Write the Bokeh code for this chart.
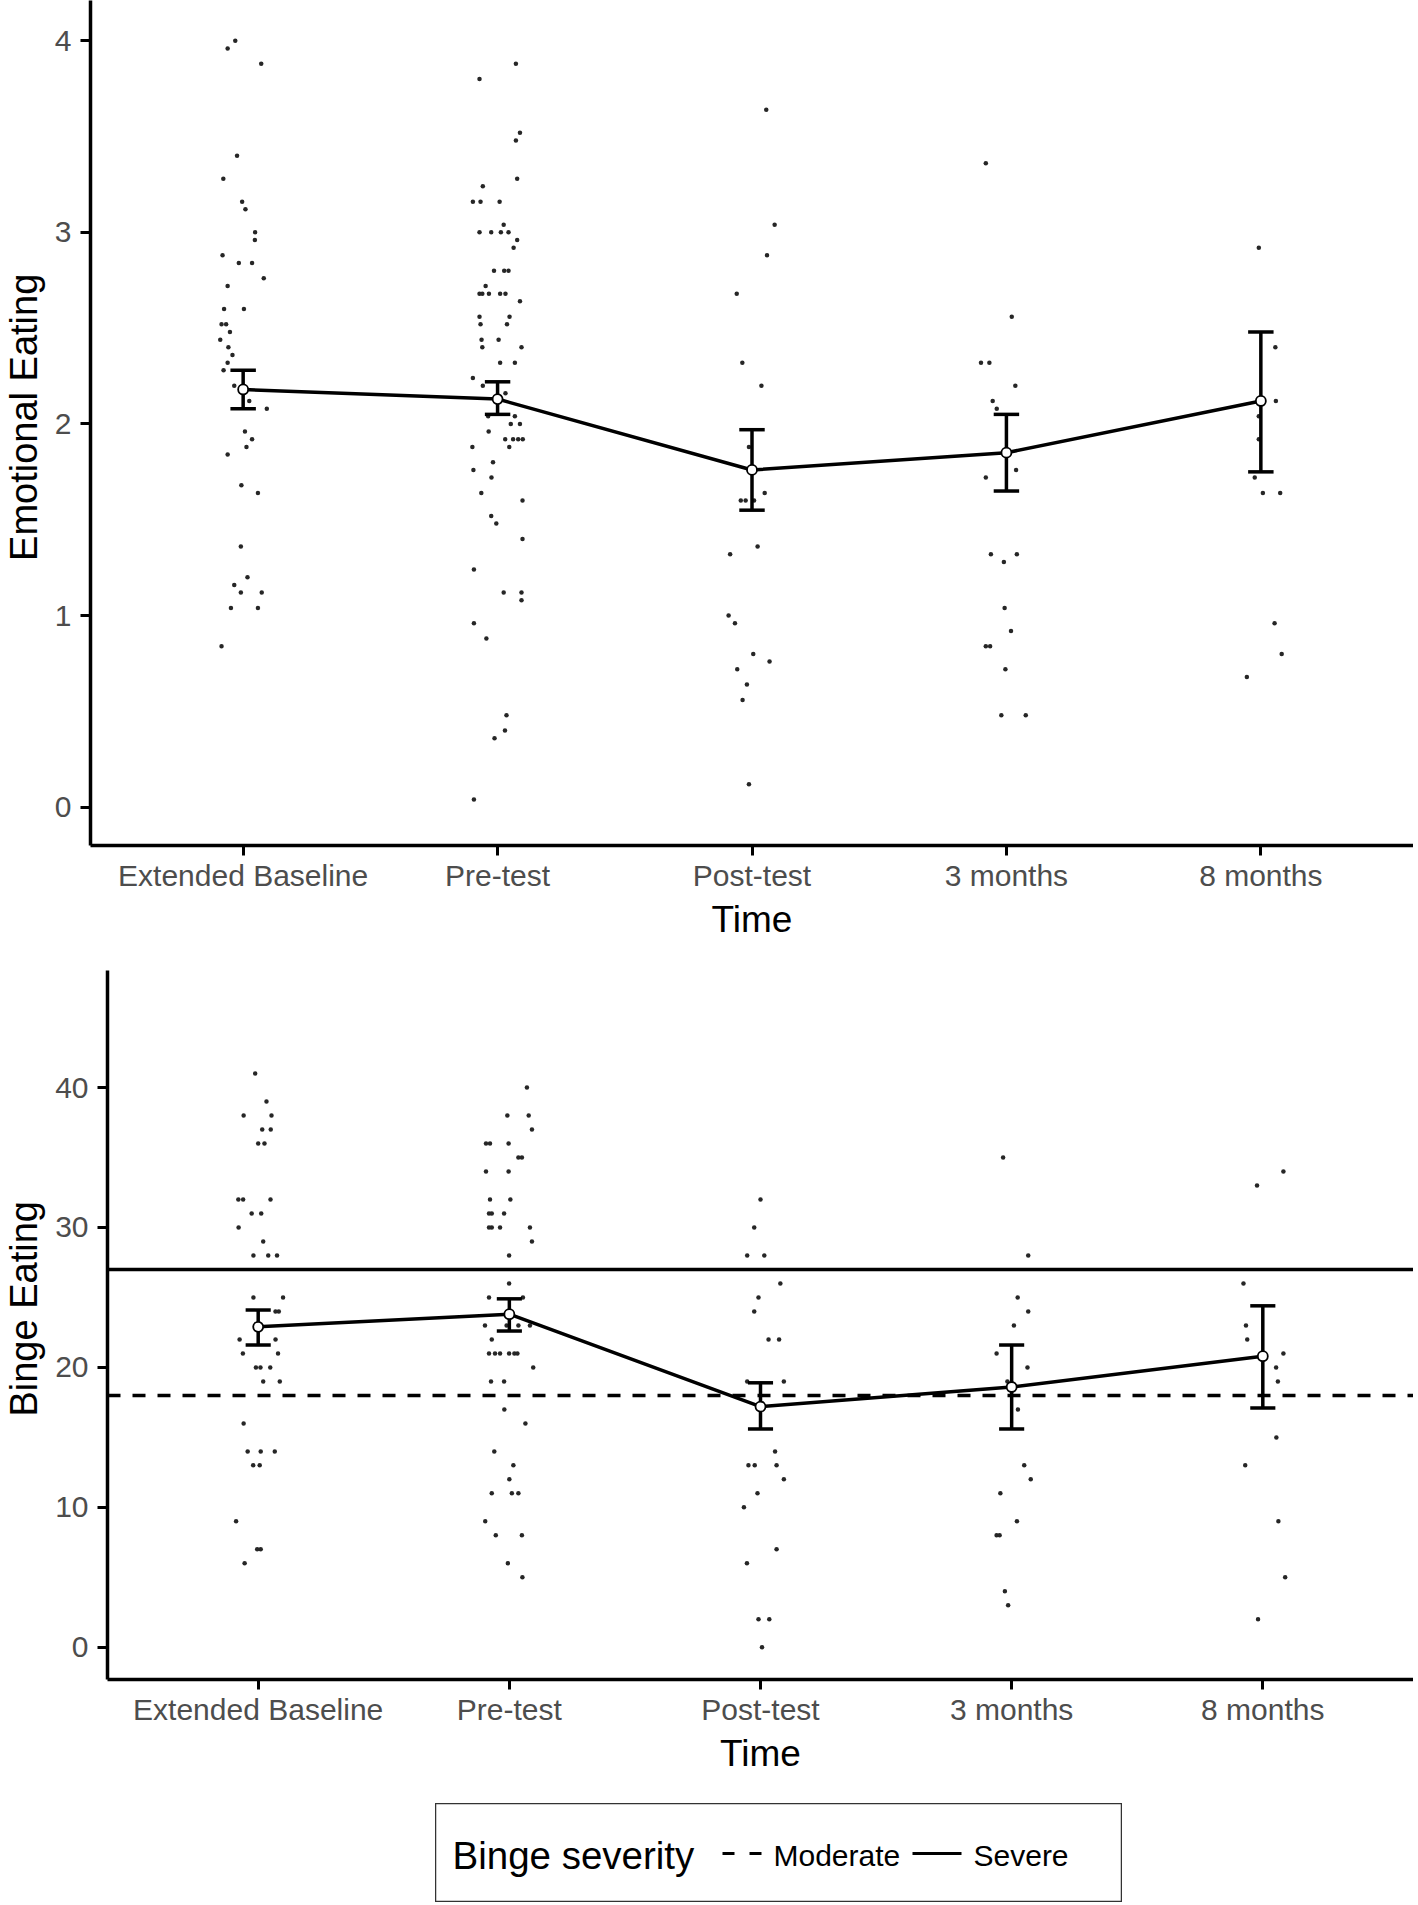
import math
from bokeh.plotting import figure
from bokeh.models import Range1d, FixedTicker, Span, Spacer
from bokeh.layouts import column, row
from bokeh.embed import file_html
from bokeh.resources import INLINE
from bokeh.core.properties import value

FONT = "Liberation Sans"

times = ["Extended Baseline", "Pre-test", "Post-test", "3 months", "8 months"]

# ---- Emotional eating: means and error bars
emo_mean = [2.18, 2.13, 1.76, 1.85, 2.12]
emo_lower = [2.08, 2.05, 1.55, 1.65, 1.75]
emo_upper = [2.28, 2.22, 1.97, 2.05, 2.48]

# ---- Emotional eating: individual scores (value, jitter offset) per time
emo_eb_val = [4.00, 3.96, 3.88, 3.40, 3.28, 3.16, 3.12, 3.00, 2.96, 2.88, 2.84, 2.84, 2.76, 2.72,
              2.60, 2.60, 2.52, 2.52, 2.48, 2.44, 2.40, 2.36, 2.32, 2.28, 2.20, 2.12, 2.08, 1.96,
              1.92, 1.88, 1.84, 1.68, 1.64, 1.36, 1.20, 1.16, 1.12, 1.12, 1.04, 1.04, 0.84]
emo_eb_jit = [-0.031, -0.061, 0.071, -0.024, -0.078, -0.004, 0.009, 0.047, 0.046, -0.081, -0.017, 0.035,
              0.081, -0.061, -0.075, 0.003, -0.085, -0.067, -0.052, -0.090, -0.058, -0.042, -0.061,
              -0.077, -0.035, 0.024, 0.093, 0.007, 0.035, 0.013, -0.061, -0.007, 0.058, -0.009, 0.017,
              -0.035, -0.009, 0.073, -0.048, 0.058, -0.085]

emo_pre_val = [3.88, 3.80, 3.52, 3.48, 3.28, 3.24, 3.16, 3.16, 3.16, 3.04, 3.00, 3.00, 3.00, 3.00,
               2.96, 2.92, 2.80, 2.80, 2.80, 2.72, 2.68, 2.68, 2.68, 2.68, 2.68, 2.64, 2.56, 2.56,
               2.52, 2.52, 2.44, 2.44, 2.40, 2.40, 2.32, 2.32, 2.24, 2.20, 2.16, 2.04, 2.04, 2.00,
               2.00, 1.96, 1.92, 1.92, 1.92, 1.92, 1.88, 1.88, 1.80, 1.76, 1.72, 1.64, 1.60, 1.52,
               1.48, 1.40, 1.24, 1.12, 1.12, 1.08, 0.96, 0.88, 0.48, 0.40, 0.36, 0.04]
emo_pre_jit = [0.072, -0.071, 0.088, 0.072, 0.077, -0.058, -0.097, -0.067, 0.008, 0.024, -0.071, -0.025,
               0.013, 0.043, 0.077, 0.063, -0.014, 0.026, 0.043, -0.047, -0.071, -0.060, -0.034, 0.010,
               0.031, 0.088, -0.071, 0.047, -0.067, 0.037, -0.063, 0.004, -0.060, 0.094, 0.010, 0.068,
               -0.097, -0.058, 0.031, 0.068, -0.037, 0.052, 0.088, -0.035, 0.030, 0.061, 0.081, 0.099,
               -0.099, 0.046, -0.018, -0.095, -0.024, -0.064, 0.098, -0.025, -0.005, 0.098, -0.093,
               0.024, 0.094, 0.094, -0.093, -0.044, 0.035, 0.029, -0.012, -0.093]

emo_post_val = [3.64, 3.04, 2.88, 2.68, 2.32, 2.20, 1.88, 1.64, 1.60, 1.60, 1.60, 1.36, 1.32, 1.00,
                0.96, 0.80, 0.76, 0.72, 0.64, 0.56, 0.12]
emo_post_jit = [0.056, 0.089, 0.059, -0.060, -0.038, 0.037, -0.012, 0.050, -0.044, -0.025, 0.008, 0.022,
                -0.086, -0.092, -0.067, 0.005, 0.069, -0.058, -0.020, -0.037, -0.012]

emo_m3_val = [3.36, 2.56, 2.32, 2.32, 2.20, 2.12, 2.08, 1.76, 1.72, 1.32, 1.32, 1.28, 1.04, 0.92,
              0.84, 0.84, 0.72, 0.48, 0.48]
emo_m3_jit = [-0.081, 0.021, -0.100, -0.067, 0.035, -0.054, -0.038, 0.038, -0.081, -0.061, 0.041, -0.010,
              -0.007, 0.018, -0.081, -0.064, -0.004, -0.020, 0.076]

emo_m8_val = [2.92, 2.40, 2.12, 2.04, 1.92, 1.72, 1.64, 1.64, 0.96, 0.80, 0.68]
emo_m8_jit = [-0.008, 0.057, 0.059, -0.008, -0.008, -0.024, 0.008, 0.076, 0.054, 0.082, -0.055]

# ---- Binge eating: means and error bars
binge_mean = [22.9, 23.8, 17.2, 18.6, 20.8]
binge_lower = [21.6, 22.6, 15.6, 15.6, 17.1]
binge_upper = [24.1, 24.9, 18.9, 21.6, 24.4]

# ---- Binge eating: individual scores (value, jitter offset) per time
bin_eb_val = [41, 39, 38, 38, 37, 37, 36, 36, 32, 32, 32, 31, 31, 30, 29, 28, 28, 28, 25, 25, 24, 24,
              22, 22, 21, 21, 20, 20, 20, 19, 19, 16, 14, 14, 14, 13, 13, 9, 7, 7, 6]
bin_eb_jit = [-0.012, 0.033, -0.058, 0.053, 0.016, 0.050, 0.000, 0.025, -0.079, -0.060, 0.049, -0.026,
              0.012, -0.078, 0.020, -0.019, 0.040, 0.075, -0.019, 0.099, 0.069, 0.082, -0.074, 0.069,
              -0.061, 0.079, -0.009, 0.009, 0.048, 0.020, 0.086, -0.058, -0.042, 0.010, 0.066, -0.020,
              0.006, -0.088, -0.004, 0.010, -0.054]

bin_pre_val = [40, 38, 38, 37, 36, 36, 36, 35, 35, 34, 34, 32, 32, 31, 31, 31, 30, 30, 30, 30, 29, 28,
               26, 25, 25, 23, 23, 23, 23, 22, 21, 21, 21, 21, 21, 21, 20, 19, 19, 17, 16, 14, 13, 12,
               11, 11, 11, 9, 8, 8, 6, 5]
bin_pre_jit = [0.070, -0.008, 0.077, 0.090, -0.093, -0.077, -0.003, 0.036, 0.050, -0.093, -0.003, -0.077,
               0.004, -0.081, -0.070, -0.021, -0.081, -0.070, -0.037, 0.082, 0.090, -0.001, -0.001,
               -0.081, 0.054, -0.097, -0.011, 0.036, 0.082, -0.070, -0.081, -0.057, -0.037, -0.001,
               0.020, 0.032, 0.095, -0.073, -0.021, -0.020, 0.064, -0.060, 0.016, 0.000, -0.070, 0.010,
               0.036, -0.096, -0.054, 0.050, -0.006, 0.052]

bin_post_val = [32, 30, 28, 28, 26, 25, 24, 22, 22, 19, 19, 14, 13, 13, 13, 12, 11, 10, 7, 6, 2, 2, 0]
bin_post_jit = [0.000, -0.025, -0.053, 0.015, 0.079, -0.008, -0.025, 0.032, 0.074, -0.053, 0.093, 0.058,
                -0.048, -0.023, 0.064, 0.093, -0.012, -0.066, 0.064, -0.054, -0.008, 0.035, 0.006]

bin_m3_val = [35, 28, 25, 24, 23, 21, 20, 19, 17, 13, 12, 11, 9, 8, 8, 4, 3]
bin_m3_jit = [-0.034, 0.066, 0.024, 0.066, 0.009, -0.060, 0.063, -0.017, 0.025, 0.050, 0.076, -0.045,
              0.021, -0.060, -0.048, -0.027, -0.014]

bin_m8_val = [34, 33, 26, 23, 22, 21, 20, 19, 15, 13, 9, 5, 2]
bin_m8_jit = [0.082, -0.023, -0.077, -0.067, -0.062, 0.082, 0.053, 0.060, 0.054, -0.070, 0.062, 0.089,
              -0.019]

# ---- Reference cut-offs
moderate_cutoff = 18
severe_cutoff = 27

y_titles = ["Emotional Eating", "Binge Eating"]
x_title = "Time"
legend_title = "Binge severity"
legend_labels = ["Moderate", "Severe"]

positions = [1, 2, 3, 4, 5]


def style_axes(p, yticks):
    p.xgrid.visible = False
    p.ygrid.visible = False
    p.outline_line_color = None
    p.xaxis.ticker = FixedTicker(ticks=positions)
    p.xaxis.major_label_overrides = {pos: t for pos, t in zip(positions, times)}
    p.yaxis.ticker = FixedTicker(ticks=yticks)
    p.xaxis.axis_label = x_title
    for ax in (p.xaxis, p.yaxis):
        ax.axis_line_width = 3.5
        ax.axis_line_color = "black"
        ax.major_tick_line_width = 3
        ax.major_tick_line_color = "black"
        ax.major_tick_out = 10
        ax.major_tick_in = 0
        ax.minor_tick_line_color = None
        ax.major_label_text_font = FONT
        ax.major_label_text_font_size = "30px"
        ax.major_label_text_color = "#4D4D4D"
        ax.axis_label_text_font = FONT
        ax.axis_label_text_font_size = "37px"
        ax.axis_label_text_font_style = "normal"
        ax.axis_label_text_color = "black"
    p.xaxis.major_label_standoff = 3
    p.xaxis.axis_label_standoff = 4
    p.yaxis.major_label_standoff = 9


def title_strip(width, height, text, cx, cy_from_top):
    t = figure(width=width, height=height, x_range=Range1d(0, width), y_range=Range1d(0, height),
               x_axis_location=None, y_axis_location=None, output_backend="svg",
               toolbar_location=None, min_border=0)
    t.xgrid.visible = False
    t.ygrid.visible = False
    t.outline_line_color = None
    t.text(x=[cx], y=[height - cy_from_top], text=[text], angle=math.pi / 2,
           text_font=value(FONT), text_font_size="38px", text_align="center",
           text_baseline="middle", text_color="black")
    return t


def draw(p, groups, means, lowers, uppers):
    for i, (vals, jits) in enumerate(groups):
        xs = [positions[i] + j for j in jits]
        p.scatter(xs, vals, marker="circle", size=4.5, fill_color="#262626", line_color=None)
    p.line(positions, means, line_width=3.5, line_color="black")
    p.segment(positions, lowers, positions, uppers, line_width=3.5, line_color="black")
    p.segment([x - 0.05 for x in positions], uppers, [x + 0.05 for x in positions], uppers,
              line_width=3.5, line_color="black")
    p.segment([x - 0.05 for x in positions], lowers, [x + 0.05 for x in positions], lowers,
              line_width=3.5, line_color="black")
    p.scatter(positions, means, marker="circle", size=10, fill_color="white",
              line_color="black", line_width=1.8)


STRIP = 48
PW = 1413 - STRIP

# ---- top panel
H1 = 965
p1 = figure(width=PW, height=H1, x_range=Range1d(0.4, 5.6), y_range=Range1d(-0.2, 4.21),
            output_backend="svg", toolbar_location=None,
            min_border_left=90 - STRIP, min_border_right=0, min_border_top=0, min_border_bottom=120)
style_axes(p1, [0, 1, 2, 3, 4])
draw(p1, [(emo_eb_val, emo_eb_jit), (emo_pre_val, emo_pre_jit), (emo_post_val, emo_post_jit),
          (emo_m3_val, emo_m3_jit), (emo_m8_val, emo_m8_jit)],
     emo_mean, emo_lower, emo_upper)
t1 = title_strip(STRIP, H1, y_titles[0], 23, 476)

# ---- bottom panel
H2 = 834
p2 = figure(width=PW, height=H2, x_range=Range1d(0.4, 5.6), y_range=Range1d(-2.3, 48.36),
            output_backend="svg", toolbar_location=None,
            min_border_left=107 - STRIP, min_border_right=0, min_border_top=5, min_border_bottom=120)
style_axes(p2, [0, 10, 20, 30, 40])
p2.add_layout(Span(location=severe_cutoff, dimension="width", line_width=3.5, line_color="black",
                   level="underlay"))
p2.add_layout(Span(location=moderate_cutoff, dimension="width", line_width=3.5, line_color="black",
                   line_dash="13 12", level="underlay"))
draw(p2, [(bin_eb_val, bin_eb_jit), (bin_pre_val, bin_pre_jit), (bin_post_val, bin_post_jit),
          (bin_m3_val, bin_m3_jit), (bin_m8_val, bin_m8_jit)],
     binge_mean, binge_lower, binge_upper)
t2 = title_strip(STRIP, H2, y_titles[1], 23, 398)

# ---- legend box
LW, LH = 687, 99
leg = figure(width=LW, height=LH, x_range=Range1d(0, LW), y_range=Range1d(0, LH),
             x_axis_location=None, y_axis_location=None,
             output_backend="svg", toolbar_location=None, min_border=0)
leg.xgrid.visible = False
leg.ygrid.visible = False
leg.outline_line_color = "#333333"
leg.outline_line_width = 1.5
ly = 47
leg.text(x=[17], y=[ly], text=[legend_title], text_font=value(FONT), text_font_size="38.5px",
         text_baseline="middle", text_align="left", text_color="black")
leg.line([287, 326], [ly + 2, ly + 2], line_width=3, line_color="black", line_dash="12 15")
leg.text(x=[338], y=[ly], text=[legend_labels[0]], text_font=value(FONT), text_font_size="30px",
         text_baseline="middle", text_align="left", text_color="black")
leg.line([477, 526], [ly + 2, ly + 2], line_width=3, line_color="black")
leg.text(x=[538], y=[ly], text=[legend_labels[1]], text_font=value(FONT), text_font_size="30px",
         text_baseline="middle", text_align="left", text_color="black")

layout = column(row(t1, p1), row(t2, p2), Spacer(height=4), row(Spacer(width=435), leg))

open("out.html", "w").write(file_html(layout, INLINE))
